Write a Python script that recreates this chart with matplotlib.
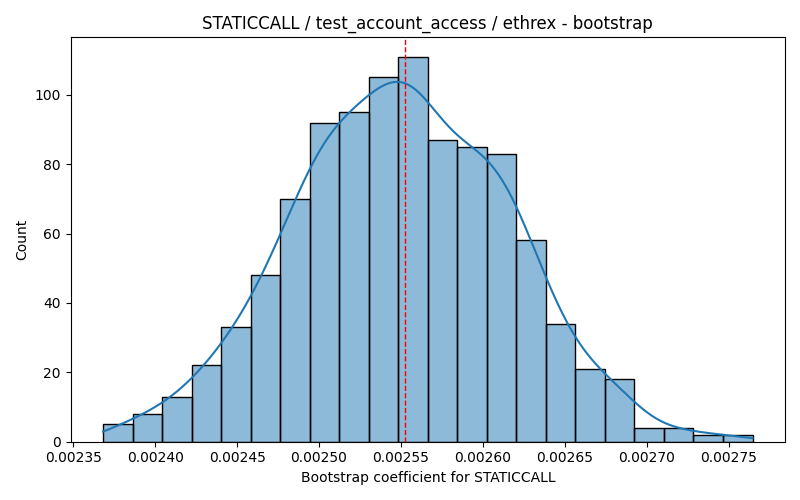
import numpy as np
import matplotlib
matplotlib.use("Agg")
import matplotlib.pyplot as plt

# ---- data ----
title = "STATICCALL / test_account_access / ethrex - bootstrap"
xlabel = "Bootstrap coefficient for STATICCALL"
ylabel = "Count"
bin_start = 0.0023682
bin_width = 1.8017e-5
counts = [5, 8, 13, 22, 33, 48, 70, 92, 95, 105, 111, 87, 85, 83, 58, 34, 21, 18, 4, 4, 2, 2]
point_estimate = 0.0025523

counts = np.array(counts, dtype=float)
edges = bin_start + bin_width * np.arange(len(counts) + 1)
centers = (edges[:-1] + edges[1:]) / 2
n = counts.sum()

fig, ax = plt.subplots(figsize=(8, 5), dpi=100)
ax.bar(edges[:-1], counts, width=bin_width, align="edge",
       color="#1f77b4", alpha=0.5, edgecolor="none", zorder=2)
ax.bar(edges[:-1], counts, width=bin_width, align="edge",
       facecolor="none", edgecolor="black", linewidth=1.0, zorder=3)

# KDE (Gaussian, Scott bandwidth) from the binned counts
mean = np.sum(centers * counts) / n
var = np.sum(counts * (centers - mean) ** 2) / (n - 1) - bin_width ** 2 / 12
bw = np.sqrt(var) * n ** (-1 / 5)
xs = np.linspace(edges[0], edges[-1], 400)
dens = np.sum(counts[None, :] * np.exp(-0.5 * ((xs[:, None] - centers[None, :]) / bw) ** 2), axis=1)
dens /= (n * bw * np.sqrt(2 * np.pi))
ax.plot(xs, dens * n * bin_width, color="#1f77b4", linewidth=1.5, zorder=4)

ax.axvline(point_estimate, color="red", linestyle="--", linewidth=1.0, zorder=5)

ax.set_title(title)
ax.set_xlabel(xlabel)
ax.set_ylabel(ylabel)
ax.margins(x=0.05)
ax.set_ylim(0, counts.max() * 1.05)
fig.tight_layout()
fig.savefig("out.png", dpi=100)
